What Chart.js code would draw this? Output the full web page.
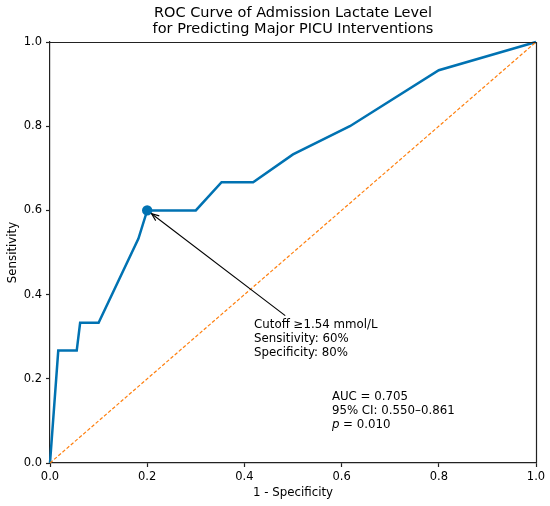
<!DOCTYPE html>
<html>
<head>
<meta charset="utf-8">
<script src="https://cdn.jsdelivr.net/npm/chart.js@4/dist/chart.umd.min.js"></script>
<style>
html,body{margin:0;padding:0;background:#fff;}
#wrap{width:550px;height:506px;position:relative;}
</style>
</head>
<body>
<div id="wrap"><canvas id="c" width="550" height="506"></canvas></div>
<script>
// ---- data ----
const fpr = [0, 0.017, 0.055, 0.062, 0.100, 0.182, 0.200, 0.300, 0.353, 0.418, 0.500, 0.617, 0.800, 1.000];
const tpr = [0, 0.267, 0.267, 0.333, 0.333, 0.533, 0.600, 0.600, 0.667, 0.667, 0.733, 0.800, 0.933, 1.000];
const chanceX = [0, 1];
const chanceY = [0, 1];
const cutoffX = [0.2];
const cutoffY = [0.6];
const tickValues = [0, 0.2, 0.4, 0.6, 0.8, 1.0];
const tickLabels = ['0.0', '0.2', '0.4', '0.6', '0.8', '1.0'];
const titleLines = ['ROC Curve of Admission Lactate Level', 'for Predicting Major PICU Interventions'];
const xTitle = '1 - Specificity';
const yTitle = 'Sensitivity';
const cutoffText = ['Cutoff \u22651.54 mmol/L', 'Sensitivity: 60%', 'Specificity: 80%'];
const cutoffTextPos = [0.42, 0.328];
const arrowTail = [0.484, 0.35];
const aucText = ['AUC = 0.705', '95% CI: 0.550\u20130.861'];
const pText = ['p', ' = 0.010'];
const aucTextPos = [0.58, 0.157];

const FONT = "'DejaVu Sans', sans-serif";
const toPts = (xs, ys) => xs.map((x, i) => ({x: x, y: ys[i]}));

const annotPlugin = {
  id: 'annot',
  afterDatasetsDraw(chart) {
    const {ctx, chartArea: a, scales} = chart;
    const xs = scales.x, ys = scales.y;
    ctx.save();
    // frame top/right
    ctx.strokeStyle = '#222';
    ctx.lineWidth = 1.2;
    ctx.beginPath();
    ctx.moveTo(a.left, a.top + 0.5);
    ctx.lineTo(a.right + 0.5, a.top + 0.5);
    ctx.lineTo(a.right + 0.5, a.bottom);
    ctx.stroke();

    // arrow
    const tx = xs.getPixelForValue(arrowTail[0]), ty = ys.getPixelForValue(arrowTail[1]);
    const px = xs.getPixelForValue(cutoffX[0]), py = ys.getPixelForValue(cutoffY[0]);
    const ang = Math.atan2(py - ty, px - tx);
    const shrink = 5.5;
    const hx = px - Math.cos(ang) * shrink, hy = py - Math.sin(ang) * shrink;
    ctx.strokeStyle = '#000';
    ctx.lineWidth = 1.1;
    ctx.beginPath();
    ctx.moveTo(tx, ty);
    ctx.lineTo(hx, hy);
    ctx.stroke();
    const hl = 8, ha = 0.38;
    ctx.beginPath();
    ctx.moveTo(hx - Math.cos(ang - ha) * hl, hy - Math.sin(ang - ha) * hl);
    ctx.lineTo(hx, hy);
    ctx.lineTo(hx - Math.cos(ang + ha) * hl, hy - Math.sin(ang + ha) * hl);
    ctx.stroke();

    // texts
    ctx.fillStyle = '#000';
    const fs = 11.8;
    ctx.font = fs + 'px ' + FONT;
    ctx.textAlign = 'left';
    ctx.textBaseline = 'middle';
    let lh = 14.2;
    let x0 = xs.getPixelForValue(cutoffTextPos[0]), y0 = ys.getPixelForValue(cutoffTextPos[1]);
    cutoffText.forEach((t, i) => ctx.fillText(t, x0, y0 + i * lh));
    lh = 14;
    x0 = xs.getPixelForValue(aucTextPos[0]); y0 = ys.getPixelForValue(aucTextPos[1]);
    aucText.forEach((t, i) => ctx.fillText(t, x0, y0 + i * lh));
    ctx.font = 'italic ' + fs + 'px ' + FONT;
    ctx.fillText(pText[0], x0, y0 + 2 * lh);
    const w = ctx.measureText(pText[0]).width;
    ctx.font = fs + 'px ' + FONT;
    ctx.fillText(pText[1], x0 + w, y0 + 2 * lh);
    ctx.restore();
  }
};

const axisCommon = {
  type: 'linear', min: 0, max: 1,
  grid: {drawOnChartArea: false, drawTicks: true, tickLength: 4, color: '#222', tickWidth: 1.2},
  border: {display: true, color: '#222', width: 1.2},
  afterBuildTicks: (s) => { s.ticks = tickValues.map(v => ({value: v})); },
};

new Chart(document.getElementById('c'), {
  type: 'scatter',
  data: {
    datasets: [
      {
        label: 'ROC',
        data: toPts(fpr, tpr),
        showLine: true,
        borderColor: '#0072B2',
        borderWidth: 2.5,
        pointRadius: 0,
        tension: 0,
        clip: false,
        order: 2
      },
      {
        label: 'Chance',
        data: toPts(chanceX, chanceY),
        showLine: true,
        borderColor: '#FF7F0E',
        borderWidth: 1.2,
        borderDash: [3.5, 2],
        pointRadius: 0,
        clip: false,
        order: 1
      },
      {
        label: 'Cutoff',
        data: toPts(cutoffX, cutoffY),
        pointRadius: 5.2,
        pointBackgroundColor: '#0072B2',
        pointBorderColor: '#0072B2',
        pointBorderWidth: 0,
        clip: false,
        order: 0
      }
    ]
  },
  options: {
    responsive: false,
    animation: false,
    devicePixelRatio: 1,
    layout: {padding: {left: 0, right: 14, top: 0, bottom: 0}},
    plugins: {
      legend: {display: false},
      tooltip: {enabled: false},
      title: {
        display: true,
        text: titleLines,
        fullSize: false,
        color: '#000',
        font: {family: FONT, size: 14.5, weight: 'normal', lineHeight: 1.1},
        padding: {top: 5.5, bottom: 4.6}
      }
    },
    scales: {
      x: Object.assign({}, axisCommon, {
        position: 'bottom',
        ticks: {
          color: '#000', padding: 3, maxRotation: 0, autoSkip: false,
          font: {family: FONT, size: 11.5},
          callback: (v, i) => tickLabels[i]
        },
        title: {display: true, text: xTitle, color: '#000', font: {family: FONT, size: 11.8}, padding: {top: 2, bottom: 5.5}},
        afterFit: (s) => { s.height = 43; }
      }),
      y: Object.assign({}, axisCommon, {
        position: 'left',
        ticks: {
          color: '#000', padding: 4, autoSkip: false,
          font: {family: FONT, size: 11.5},
          callback: (v, i) => tickLabels[i]
        },
        title: {display: true, text: yTitle, color: '#000', font: {family: FONT, size: 11.8}, padding: {top: 5.5, bottom: 2}},
        afterFit: (s) => { s.width = 50; }
      })
    }
  },
  plugins: [annotPlugin]
});
</script>
</body>
</html>
